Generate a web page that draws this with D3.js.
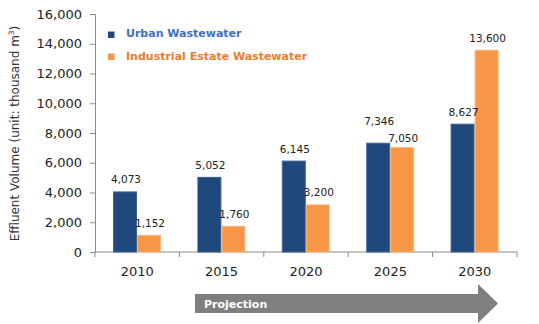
<!DOCTYPE html>
<html lang="en">
<head>
<meta charset="UTF-8">
<title>Effluent Volume</title>
<script src="https://cdn.jsdelivr.net/npm/d3@7"></script>
<style>
    body { margin: 0; background: #fff; }
    svg { display: block; font-family: "DejaVu Sans", Verdana, sans-serif; }
</style>
</head>
<body>
<svg id="chart" width="539" height="324"></svg>
<script>
    const years = ["2010", "2015", "2020", "2025", "2030"];
    const urban = [4073, 5052, 6145, 7346, 8627];
    const industrial = [1152, 1760, 3200, 7050, 13600];
    const seriesNames = ["Urban Wastewater", "Industrial Estate Wastewater"];
    const yTicks = [0, 2000, 4000, 6000, 8000, 10000, 12000, 14000, 16000];

    const barFill = ["#1f497d", "#f79646"];
    const barStroke = ["#3c6392", "#fbb57c"];
    const legendText = ["#3f6fc6", "#ef7b2c"];

    const svg = d3.select("#chart");
    const fmt = d3.format(",");

    const x0 = d3.scaleBand().domain(years).range([95, 517]);
    const x1 = d3.scaleBand().domain(seriesNames).range([18, 66]);
    const y = d3.scaleLinear().domain([0, 16000]).range([252, 14]);

    // y axis
    const yAxis = svg.append("g")
        .attr("transform", "translate(95,0)")
        .call(d3.axisLeft(y).tickValues(yTicks).tickSize(5).tickPadding(8).tickFormat(d => fmt(d)));
    yAxis.select(".domain").attr("stroke", "#8a8a8a");
    yAxis.selectAll(".tick line").attr("stroke", "#8a8a8a");
    yAxis.selectAll(".tick text")
        .attr("font-size", 13).attr("fill", "#222")
        .attr("font-family", "DejaVu Sans, Verdana, sans-serif");

    // x axis with ticks at the category boundaries
    const xAxis = svg.append("g").attr("transform", "translate(0,252)");
    xAxis.append("line").attr("x1", 95).attr("x2", 517).attr("stroke", "#8a8a8a");
    const bounds = years.map(d => x0(d)).concat([x0.range()[1]]);
    xAxis.selectAll(".xt").data(bounds).join("line")
        .attr("x1", d => d).attr("x2", d => d)
        .attr("y1", 0).attr("y2", 5).attr("stroke", "#8a8a8a");
    xAxis.selectAll(".xl").data(years).join("text")
        .attr("x", d => x0(d) + x0.bandwidth() / 2).attr("y", 24)
        .attr("text-anchor", "middle").attr("font-size", 13).attr("fill", "#222")
        .text(d => d);

    // bars
    const rows = years.map((yr, i) => ({ year: yr, values: [urban[i], industrial[i]] }));
    const groups = svg.selectAll(".grp").data(rows).join("g")
        .attr("transform", d => `translate(${x0(d.year)},0)`);
    groups.selectAll("rect").data(d => d.values.map((v, j) => ({ v, j }))).join("rect")
        .attr("x", d => x1(seriesNames[d.j]) + 0.5)
        .attr("y", d => y(d.v) + 0.5)
        .attr("width", x1.bandwidth() - 1)
        .attr("height", d => y(0) - y(d.v) - 0.5)
        .attr("fill", d => barFill[d.j])
        .attr("stroke", d => barStroke[d.j]);

    // value labels; pull apart the pair when the two bars are close in height
    function labelPos(values) {
        const pos = values.map(v => y(v) - 8);
        if (Math.abs(pos[0] - pos[1]) < 14) {
            pos[0] = Math.min(pos[0], pos[1]) - 10;
            pos[1] = y(values[1]) - 5;
        }
        return values.map((v, j) => ({ v, j, ty: pos[j] }));
    }
    groups.selectAll(".val").data(d => labelPos(d.values)).join("text")
        .attr("x", d => x1(seriesNames[d.j]) + x1.bandwidth() / 2 + 1)
        .attr("y", d => d.ty)
        .attr("text-anchor", "middle").attr("font-size", 10.5).attr("fill", "#222")
        .text(d => fmt(d.v));

    // legend
    const legend = svg.append("g");
    seriesNames.forEach((name, i) => {
        legend.append("rect")
            .attr("x", 108).attr("y", 31.5 + i * 22).attr("width", 6.5).attr("height", 6.5)
            .attr("fill", barFill[i]);
        legend.append("text")
            .attr("x", 126).attr("y", 37 + i * 22.5)
            .attr("font-weight", "bold")
            .attr("font-size", 11).attr("fill", legendText[i])
            .text(name);
    });

    // y axis title
    const title = svg.append("text")
        .attr("transform", "translate(18.5,133.5) rotate(-90)")
        .attr("text-anchor", "middle").attr("font-size", 12).attr("fill", "#333");
    title.append("tspan").text("Effluent Volume (unit: thousand m");
    title.append("tspan").attr("font-size", 7.5).attr("dy", -4.5).text("3");
    title.append("tspan").attr("dy", 4.5).text(")");

    // projection arrow
    const ax0 = 195, ax1 = 478, tip = 498, cy = 303.5, half = 9.5, head = 19.5;
    svg.append("path")
        .attr("d", `M${ax0},${cy - half}H${ax1}V${cy - head}L${tip},${cy}L${ax1},${cy + head}V${cy + half}H${ax0}Z`)
        .attr("fill", "#7f7f7f");
    svg.append("text")
        .attr("x", 204).attr("y", 308)
        .attr("font-weight", "bold").attr("font-size", 11).attr("fill", "#fff")
        .text("Projection");
</script>
</body>
</html>
